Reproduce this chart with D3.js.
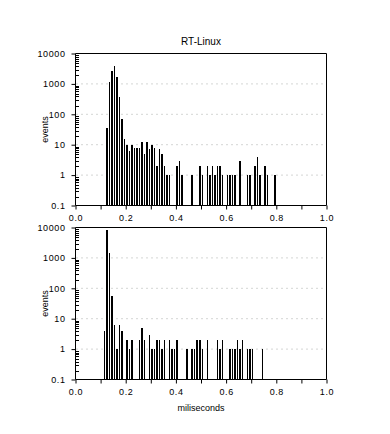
<!DOCTYPE html>
<html>
<head>
<meta charset="utf-8">
<script src="https://cdn.jsdelivr.net/npm/d3@7"></script>
<style>
body { margin: 0; background: #fff; }
text { font-family: "Liberation Sans", Arial, sans-serif; font-size: 9px; fill: #000; }
</style>
</head>
<body>
<div id="chart-area"></div>
<script>
// histogram data, bins are 0.01 ms wide (left edge)
var topBins = [0.12,0.13,0.14,0.15,0.16,0.17,0.18,0.19,0.20,0.21,0.22,0.23,0.24,0.25,0.26,0.27,0.28,0.29,0.30,0.31,0.32,0.33,0.34,0.35,0.36,0.37,
  0.40,0.41,0.42,0.46,0.49,0.50,0.52,0.53,0.54,0.55,0.56,0.57,0.58,0.60,0.61,0.62,0.63,0.65,0.68,0.69,0.71,0.72,0.73,0.75,0.76,0.79];
var topCounts = [36,1150,2600,4000,1650,360,70,15,10,6,10,8,8,8,12,5,12,7,10,8,2,7,5,2,1,1,
  2,3,1,1,2,1,2,1,2,1,2,2,1,1,1,1,1,3,1,1,2,4,1,2,1,1];

var bottomBins = [0.11,0.12,0.13,0.14,0.15,0.16,0.17,0.18,0.20,0.21,0.22,0.25,0.26,0.27,0.29,0.30,0.31,0.32,0.33,0.34,0.35,
  0.37,0.38,0.39,0.40,0.44,0.46,0.47,0.48,0.49,0.50,0.52,0.56,0.57,0.58,0.61,0.62,0.63,0.64,0.65,0.66,0.68,0.69,0.70,0.74];
var bottomCounts = [4,8500,1500,55,6,1,6,4,2,1,2,2,5,2,3,1,1,2,2,1,2,
  2,1,1,2,1,1,1,2,2,1,2,2,1,2,1,1,1,2,1,2,1,1,1,1];

var xTicks = [0, 0.1, 0.2, 0.3, 0.4, 0.5, 0.6, 0.7, 0.8, 0.9, 1.0];
var yTicks = [0.1, 1, 10, 100, 1000, 10000];
var yTickLabels = ["0.1", "1", "10", "100", "1000", "10000"];
var binWidth = 0.01;

var width = 251, height = 152;

var svg = d3.select("#chart-area").append("svg")
    .attr("width", 390)
    .attr("height", 434);

var x = d3.scaleLinear().domain([0, 1]).range([0, width]);
var y = d3.scaleLog().domain([0.1, 10000]).range([height, 0]);

// title
svg.append("text")
    .attr("x", 201).attr("y", 45)
    .attr("text-anchor", "middle")
    .style("font-size", "10px")
    .text("RT-Linux");

drawPanel(53.5, topBins, topCounts);
drawPanel(227.5, bottomBins, bottomCounts);

svg.append("text")
    .attr("x", 201).attr("y", 411)
    .attr("text-anchor", "middle")
    .text("miliseconds");

function drawPanel(top, bins, counts) {
	var g = svg.append("g")
		.attr("transform", "translate(75.5," + top + ")");

	var data = bins.map(function(b, i) { return {x0: b, n: counts[i]}; });

	// dotted grid
	g.selectAll(".grid")
		.data([1, 10, 100, 1000])
		.enter().append("line")
		.attr("x1", 1).attr("x2", width)
		.attr("y1", d => y(d)).attr("y2", d => y(d))
		.attr("stroke", "#a8aca8")
		.attr("stroke-dasharray", "1,4");

	// bars
	g.selectAll("rect")
		.data(data)
		.enter().append("rect")
		.attr("shape-rendering", "crispEdges")
		.attr("fill", "#000")
		.attr("x", d => x(d.x0) + 0.5)
		.attr("width", d => x(d.x0 + binWidth) - x(d.x0) - 1)
		.attr("y", d => y(d.n))
		.attr("height", d => height - y(d.n));

	// x axis, ticks pointing down
	var xAxis = d3.axisBottom(x)
		.tickValues(xTicks)
		.tickSize(4)
		.tickFormat(d => (Math.round(d * 10) % 2 == 0) ? d3.format(".1f")(d) : "");
	var xg = g.append("g")
		.attr("transform", "translate(0," + height + ")")
		.call(xAxis);
	xg.select(".domain").attr("d", "M0,0H" + width);
	xg.selectAll("text").attr("y", 9).style("font-size", "9px").style("letter-spacing", "0.6px")
		.style("font-family", "'Liberation Sans', Arial, sans-serif");

	// y axis
	var yAxis = d3.axisLeft(y)
		.tickValues(yTicks)
		.tickSize(4)
		.tickFormat((d, i) => yTickLabels[i]);
	var yg = g.append("g").call(yAxis);
	yg.select(".domain").attr("d", "M0," + height + "V0");
	yg.selectAll("text").attr("x", -10).style("font-size", "9px").style("letter-spacing", "0.6px")
		.style("font-family", "'Liberation Sans', Arial, sans-serif");

	// minor log ticks on the inside
	var minor = [];
	[0.1, 1, 10, 100, 1000].forEach(function(dec) {
		for (var k = 2; k < 10; k++) minor.push(dec * k);
	});
	g.selectAll(".minor")
		.data(minor)
		.enter().append("line")
		.attr("shape-rendering", "crispEdges")
		.attr("x1", 0).attr("x2", 3)
		.attr("y1", d => Math.round(y(d)) + 0.5).attr("y2", d => Math.round(y(d)) + 0.5)
		.attr("stroke", "#000");

	// frame top and right
	g.append("path")
		.attr("d", "M0,0H" + width + "V" + height)
		.attr("fill", "none")
		.attr("stroke", "#000");

	// y label
	g.append("text")
		.attr("transform", "translate(-28," + (height / 2) + ") rotate(-90)")
		.attr("text-anchor", "middle")
		.text("events");
}
</script>
</body>
</html>
